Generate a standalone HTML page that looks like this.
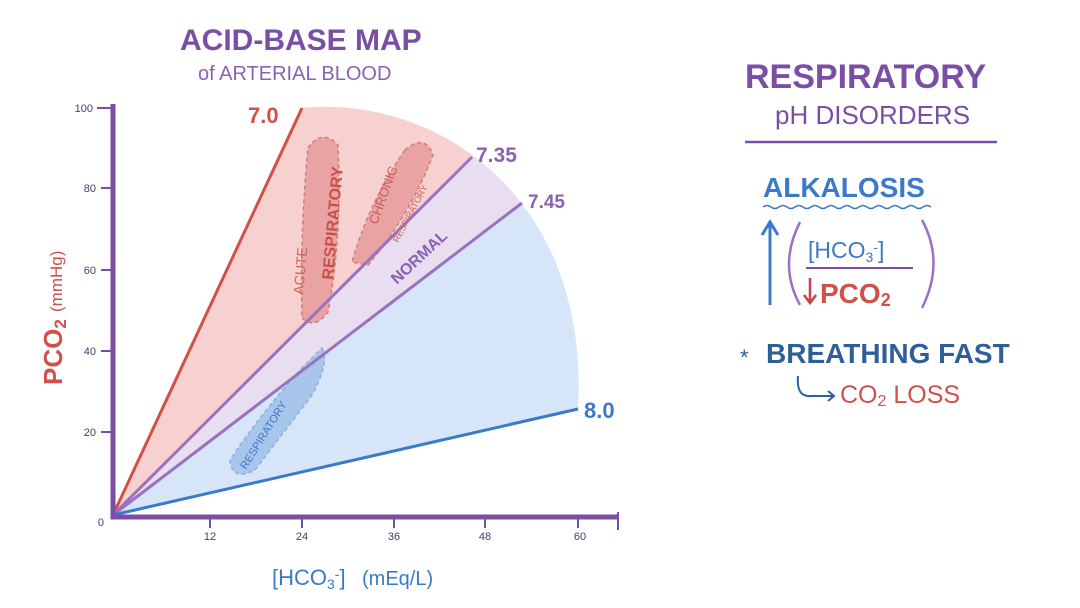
<!DOCTYPE html>
<html><head><meta charset="utf-8"><style>
html,body{margin:0;padding:0;background:#fff;}
svg{display:block;}
text{font-family:"Liberation Sans",sans-serif;}
</style></head><body>
<svg width="1080" height="608" viewBox="0 0 1080 608" xmlns="http://www.w3.org/2000/svg">
<defs>
<clipPath id="sec"><path d="M113,515 L302,108 C440,95 590,200 578,409 Z"/></clipPath>
</defs>
<g clip-path="url(#sec)">
<rect x="0" y="0" width="700" height="600" fill="#d6e5f8"/>
<path d="M113,515 L302,108 L700,0 L700,80 L472,157 Z" fill="#f6d1cf"/>
<path d="M113,515 L472,157 L700,80 L700,100 L522,203 Z" fill="#e9ddf0"/>
<path d="M113,515 L302,60 L520,60 L472,157 Z" fill="#f6d1cf"/>
</g>
<path d="M308,148 Q322,128 338,145 Q342,240 328,312 Q315,330 302,318 Q300,230 308,148 Z" fill="#e8a3a2" stroke="#d07c7c" stroke-dasharray="4,3" stroke-width="1.5"/>
<path d="M405,150 Q425,133 433,155 Q410,215 368,265 L352,262 Q370,200 405,150 Z" fill="#e8a3a2" stroke="#d07c7c" stroke-dasharray="4,3" stroke-width="1.5"/>
<path d="M322,348 Q330,362 312,395 L255,470 Q232,482 230,460 Q260,415 300,370 Z" fill="#a8c6ec" stroke="#8aaede" stroke-dasharray="4,3" stroke-width="1.5"/>
<line x1="113" y1="515" x2="302" y2="108" stroke="#d0504a" stroke-width="3"/>
<line x1="113" y1="515" x2="472" y2="157" stroke="#9a72c0" stroke-width="3"/>
<line x1="113" y1="515" x2="522" y2="203" stroke="#9a72c0" stroke-width="3"/>
<line x1="113" y1="515" x2="578" y2="409" stroke="#3b7ac8" stroke-width="3"/>
<path d="M113,104 L113,517 L618,517" fill="none" stroke="#7b4ea6" stroke-width="5"/>
<g stroke="#7b4ea6" stroke-width="2">
<line x1="97" y1="108" x2="113" y2="108"/><line x1="101" y1="188" x2="113" y2="188"/>
<line x1="101" y1="270" x2="113" y2="270"/><line x1="101" y1="351" x2="113" y2="351"/>
<line x1="101" y1="432" x2="113" y2="432"/>
<line x1="210" y1="517" x2="210" y2="528"/><line x1="302" y1="517" x2="302" y2="528"/>
<line x1="394" y1="517" x2="394" y2="528"/><line x1="485" y1="517" x2="485" y2="528"/>
<line x1="578" y1="517" x2="578" y2="528"/><line x1="618" y1="512" x2="618" y2="530"/>
</g>
<g font-size="11" fill="#4a3a6a" text-anchor="end">
<text x="93" y="112">100</text><text x="96" y="192">80</text><text x="96" y="274">60</text>
<text x="96" y="355">40</text><text x="96" y="436">20</text><text x="104" y="526">0</text>
</g>
<g font-size="11" fill="#4a3a6a" text-anchor="middle">
<text x="210" y="540">12</text><text x="302" y="540">24</text><text x="394" y="540">36</text>
<text x="485" y="540">48</text><text x="580" y="540">60</text>
</g>
<text x="248" y="123" font-size="22" font-weight="bold" fill="#d0504a">7.0</text>
<text x="476" y="162" font-size="21" font-weight="bold" fill="#8a62b4">7.35</text>
<text x="528" y="208" font-size="19" font-weight="bold" fill="#8a62b4">7.45</text>
<text x="584" y="418" font-size="22" font-weight="bold" fill="#3b7ac8">8.0</text>
<text transform="translate(303,295) rotate(-85)" font-size="14" fill="#d0605a">ACUTE</text>
<text transform="translate(333,280) rotate(-85)" font-size="16" font-weight="bold" fill="#c8504a">RESPIRATORY</text>
<text transform="translate(377,225) rotate(-70)" font-size="13" fill="#c8605a">CHRONIC</text>
<text transform="translate(398,243) rotate(-62)" font-size="9" fill="#c8605a">RESPIRATORY</text>
<text transform="translate(397,285) rotate(-43)" font-size="16" font-weight="bold" fill="#8a62b4">NORMAL</text>
<text transform="translate(246,470) rotate(-58)" font-size="11" fill="#3b7ac8">RESPIRATORY</text>
<text x="180" y="50" font-size="30" font-weight="bold" fill="#7b4ea6">ACID-BASE MAP</text>
<text x="198" y="80" font-size="20" fill="#8a62b4">of ARTERIAL BLOOD</text>
<text transform="translate(62,385) rotate(-90)" font-size="26" font-weight="bold" fill="#d0504a">PCO<tspan font-size="17" dy="4">2</tspan></text>
<text transform="translate(62,312) rotate(-90)" font-size="17" fill="#d0504a">(mmHg)</text>
<text x="272" y="585" font-size="22" fill="#3b7ac8">[HCO<tspan font-size="14" dy="4">3</tspan><tspan dy="-10" font-size="14">-</tspan><tspan dy="6">]</tspan></text>
<text x="362" y="585" font-size="20" fill="#3b7ac8">(mEq/L)</text>
<text x="745" y="88" font-size="34" font-weight="bold" fill="#7b4ea6">RESPIRATORY</text>
<text x="775" y="124" font-size="26" fill="#7b4ea6">pH DISORDERS</text>
<line x1="745" y1="142" x2="997" y2="142" stroke="#7b4ea6" stroke-width="2.5"/>
<text x="763" y="197" font-size="28" font-weight="bold" fill="#3b7ac8">ALKALOSIS</text>
<path d="M763,207 q4,-3 8,0 t8,0 t8,0 t8,0 t8,0 t8,0 t8,0 t8,0 t8,0 t8,0 t8,0 t8,0 t8,0 t8,0 t8,0 t8,0 t8,0 t8,0 t8,0 t8,0 t8,0" fill="none" stroke="#3b7ac8" stroke-width="1.5"/>
<path d="M770,305 L770,222 M762,235 L770,222 L778,235" fill="none" stroke="#3b7ac8" stroke-width="3"/>
<path d="M800,222 Q778,265 800,305" fill="none" stroke="#9a72c0" stroke-width="2.5"/>
<path d="M922,220 Q945,262 922,308" fill="none" stroke="#9a72c0" stroke-width="2.5"/>
<text x="808" y="258" font-size="23" fill="#3b7ac8">[HCO<tspan font-size="14" dy="4">3</tspan><tspan font-size="14" dy="-10">-</tspan><tspan dy="6">]</tspan></text>
<line x1="806" y1="268" x2="913" y2="268" stroke="#7b4ea6" stroke-width="2"/>
<path d="M810,278 L810,302 M804,295 L810,303 L816,295" fill="none" stroke="#c8404a" stroke-width="2.5"/>
<text x="820" y="303" font-size="28" font-weight="bold" fill="#d0504a">PCO<tspan font-size="18" dy="3">2</tspan></text>
<text x="740" y="365" font-size="22" fill="#2f5f9a">*</text>
<text x="766" y="363" font-size="28" font-weight="bold" fill="#2f5f9a">BREATHING FAST</text>
<path d="M798,376 Q796,398 812,396 L834,396 M828,391 L834,396 L828,401" fill="none" stroke="#2f5f9a" stroke-width="2"/>
<text x="840" y="403" font-size="25" fill="#d0504a">CO<tspan font-size="16" dy="3">2</tspan><tspan dy="-3"> LOSS</tspan></text>
</svg>
</body></html>
